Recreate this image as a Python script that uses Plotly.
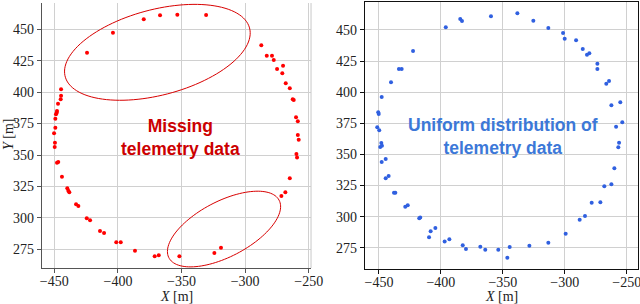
import numpy as np
import plotly.graph_objects as go

# ---- data ----
missing_x = [-424.3, -403.9, -379.7, -366.9, -353.3, -330.7,
             -287.3, -283.0, -278.9, -277.5, -274.9, -270.2, -270.8, -268.1, -264.9, -262.6,
             -261.8, -260.0, -258.6, -258.6, -257.9, -259.7, -259.2, -264.9, -268.4, -271.5,
             -319.0, -324.2, -351.7, -367.9, -371.1, -386.6, -397.8, -401.3, -410.9, -414.1,
             -421.9, -424.5, -431.1, -432.9, -438.2, -439.0, -439.8, -444.0, -446.9, -447.9,
             -449.7, -449.5, -450.2, -449.2, -449.2, -448.7, -448.1, -447.9, -447.1, -445.0,
             -444.7, -444.7]
missing_y = [431.4, 447.3, 458.0, 461.1, 461.6, 461.4,
             437.3, 429.0, 429.0, 425.6, 418.4, 421.0, 415.0, 407.0, 403.1, 394.3,
             393.8, 380.0, 376.8, 365.9, 362.2, 350.8, 348.0, 331.5, 320.3, 317.4,
             276.3, 272.0, 269.4, 270.2, 269.4, 273.9, 280.5, 280.5, 288.0, 289.5,
             298.0, 299.6, 309.4, 310.8, 320.3, 321.6, 323.5, 332.7, 344.4, 343.9,
             356.4, 359.8, 367.3, 371.7, 378.9, 382.4, 383.7, 385.0, 390.8, 394.3,
             397.2, 402.3]

uniform_x = [-396.1, -384.4, -383.0, -422.5, -433.9, -431.7, -440.3, -447.8, -450.6, -450.2,
             -451.4, -449.8, -448.1, -449.0, -447.6, -444.6,
             -359.6, -338.3, -325.4, -313.3, -301.4, -300.1, -290.9, -285.5, -282.1, -280.2,
             -273.7, -273.7, -266.5, -264.3, -262.4, -255.2, -258.6, -253.6, -256.2, -256.8,
             -447.8, -444.6, -442.2, -437.9, -436.8, -428.8, -426.8, -417.5, -416.7, -409.6,
             -408.3, -404.5, -397.0, -393.2, -382.4, -379.8, -368.2, -364.2, -353.7, -346.4,
             -344.5, -328.6, -313.3, -299.3, -288.0, -283.7, -278.3, -271.3, -268.1, -262.4,
             -260.0]
uniform_y = [452.2, 458.8, 457.2, 433.1, 418.6, 418.6, 408.0, 396.1, 383.8, 382.5,
             371.8, 369.4, 359.2, 356.0, 357.0, 346.3,
             461.0, 463.4, 457.5, 451.6, 447.6, 443.0, 441.7, 434.7, 430.1, 431.3,
             422.9, 418.6, 406.8, 409.0, 389.5, 391.9, 372.3, 375.8, 359.4, 355.7,
             343.9, 330.8, 332.6, 319.2, 319.2, 308.0, 309.1, 298.6, 299.4, 283.4,
             288.2, 290.8, 280.1, 281.8, 276.9, 274.0, 275.8, 273.4, 273.4, 267.0,
             275.6, 276.6, 279.0, 286.3, 297.5, 300.5, 311.2, 311.5, 324.4, 326.0,
             338.8]

x_ticks = [-450, -400, -350, -300, -250]
y_ticks = [275, 300, 325, 350, 375, 400, 425, 450]

# ellipse annotations: centre x, centre y, semi-major, semi-minor, angle (deg)
ellipse_cx = [-369.0, -316.6]
ellipse_cy = [431.7, 291.1]
ellipse_a = [75.0, 49.0]
ellipse_b = [34.0, 22.0]
ellipse_ang = [15.0, 28.0]

RED = "#ff0000"
BLUE = "#3060e0"

fig = go.Figure()
fig.add_trace(go.Scatter(x=missing_x, y=missing_y, mode="markers",
                         marker=dict(color=RED, size=4), xaxis="x", yaxis="y",
                         showlegend=False))
fig.add_trace(go.Scatter(x=uniform_x, y=uniform_y, mode="markers",
                         marker=dict(color=BLUE, size=4), xaxis="x2", yaxis="y2",
                         showlegend=False))

shapes = []
t = np.linspace(0, 2 * np.pi, 120)
for cx, cy, a, b, ang in zip(ellipse_cx, ellipse_cy, ellipse_a, ellipse_b, ellipse_ang):
    th = np.deg2rad(ang)
    ex = cx + a * np.cos(t) * np.cos(th) - b * np.sin(t) * np.sin(th)
    ey = cy + a * np.cos(t) * np.sin(th) + b * np.sin(t) * np.cos(th)
    path = "M " + " L ".join(f"{px:.2f},{py:.2f}" for px, py in zip(ex, ey)) + " Z"
    shapes.append(dict(type="path", path=path, xref="x", yref="y",
                       line=dict(color="#d80000", width=1)))
# light right border of left panel
shapes.append(dict(type="line", xref="x domain", yref="y domain", x0=1, x1=1, y0=0, y1=1,
                   line=dict(color="#c8c8c8", width=1)))

tickfont = dict(family="Liberation Serif, Times New Roman, serif", size=14, color="#222")
common = dict(showgrid=True, gridcolor="#d0d0d0", gridwidth=1, zeroline=False,
              tickfont=tickfont, showline=True, ticklabeloverflow="allow")


def xminor(col):
    return dict(ticks="outside", ticklen=4, tickcolor=col, tick0=0, dtick=50, showgrid=False)


fig.update_layout(
    width=640, height=304,
    margin=dict(l=0, r=0, t=0, b=0),
    paper_bgcolor="white", plot_bgcolor="white",
    xaxis=dict(domain=[0.0656, 0.486], range=[-459.7, -248.2], tickvals=x_ticks,
               linecolor="#555", linewidth=1.2, mirror=False, ticks="",
               minor=xminor("#555"), anchor="y", automargin=False, **common),
    yaxis=dict(domain=[0.1184, 0.990], range=[260.1, 470.9], tickvals=y_ticks,
               linecolor="#555", linewidth=1.2, ticks="outside", ticklen=4, tickcolor="#555",
               anchor="x", automargin=False, **common),
    xaxis2=dict(domain=[0.5703, 0.9969], range=[-461.3, -240.9], tickvals=x_ticks,
                linecolor="#111", linewidth=1.2, mirror=True, ticks="",
                minor=xminor("#111"), anchor="y2", automargin=False, **common),
    yaxis2=dict(domain=[0.1151, 0.9934], range=[257.9, 472.5], tickvals=y_ticks,
                linecolor="#111", linewidth=1.2, mirror=True, ticks="outside", ticklen=4,
                tickcolor="#111", anchor="x2", automargin=False, **common),
    shapes=shapes,
    annotations=[
        dict(text="Missing<br>telemetry data", x=-351.2, y=364.3, xref="x", yref="y",
             showarrow=False, font=dict(family="Liberation Sans, Arial, sans-serif",
                                        size=17.5, color="#cc0000", weight="bold"),
             xanchor="center", yanchor="middle"),
        dict(text="Uniform distribution of<br>telemetry data", x=-349.9, y=364.0,
             xref="x2", yref="y2", showarrow=False,
             font=dict(family="Liberation Sans, Arial, sans-serif", size=17.5,
                       color="#3c78d8", weight="bold"),
             xanchor="center", yanchor="middle"),
        dict(text="<i>X</i> [m]", x=176.5 / 640, y=1 - 296 / 304, xref="paper", yref="paper",
             showarrow=False, font=dict(family="Liberation Serif, serif", size=14, color="#222"),
             xanchor="center", yanchor="middle"),
        dict(text="<i>X</i> [m]", x=501 / 640, y=1 - 296 / 304, xref="paper", yref="paper",
             showarrow=False, font=dict(family="Liberation Serif, serif", size=14, color="#222"),
             xanchor="center", yanchor="middle"),
        dict(text="<i>Y</i> [m]", x=8 / 640, y=1 - 134 / 304, xref="paper", yref="paper",
             showarrow=False, textangle=-90,
             font=dict(family="Liberation Serif, serif", size=14, color="#222"),
             xanchor="center", yanchor="middle"),
    ],
)

fig.write_html("out.html", config={"displayModeBar": False},
               post_script="document.body.style.margin='0px';document.body.style.overflow='hidden';")
